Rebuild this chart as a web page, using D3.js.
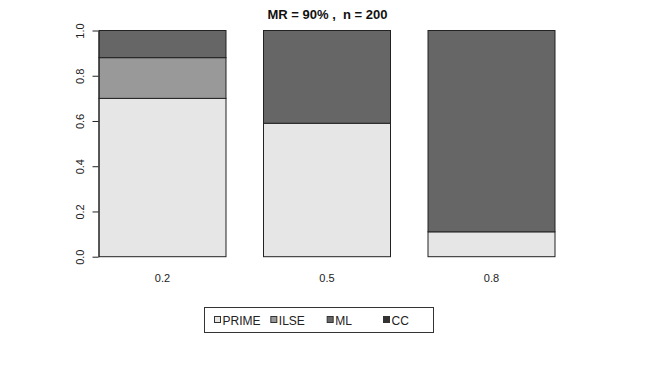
<!DOCTYPE html>
<html>
<head>
<meta charset="utf-8">
<script src="https://cdn.jsdelivr.net/npm/d3@7"></script>
<style>
  body { margin: 0; background: #fff; }
  svg { display: block; font-family: "Liberation Sans", Arial, Helvetica, sans-serif; }
</style>
</head>
<body>
<div id="chart"></div>
<script>
// data
const categories = ["0.2", "0.5", "0.8"];
const methods = ["PRIME", "ILSE", "ML", "CC"];
const prime = [0.70, 0.59, 0.11];
const ilse = [0.18, 0.00, 0.00];
const ml = [0.12, 0.41, 0.89];
const cc = [0.00, 0.00, 0.00];
const yTicks = [0, 0.2, 0.4, 0.6, 0.8, 1.0];
const title = "MR = 90% ,  n = 200";

const colors = ["#e6e6e6", "#999999", "#666666", "#333333"];

const width = 654, height = 382;

const svg = d3.select("#chart")
    .append("svg")
    .attr("width", width)
    .attr("height", height);

// build rows for the stack
const rows = categories.map((c, i) => ({
    cat: c, PRIME: prime[i], ILSE: ilse[i], ML: ml[i], CC: cc[i]
}));
const series = d3.stack().keys(methods)(rows);

const x = d3.scaleBand()
    .domain(categories)
    .range([99, 555])
    .paddingInner(0.228)
    .paddingOuter(0);

const y = d3.scaleLinear()
    .domain([0, 1])
    .range([256.7, 30.5]);

const color = d3.scaleOrdinal().domain(methods).range(colors);

// bars
svg.append("g")
    .selectAll("g")
    .data(series)
    .join("g")
    .attr("fill", d => color(d.key))
    .selectAll("rect")
    .data(d => d.filter(s => s[1] - s[0] > 0))
    .join("rect")
    .attr("x", d => x(d.data.cat))
    .attr("y", d => y(d[1]))
    .attr("width", x.bandwidth())
    .attr("height", d => y(d[0]) - y(d[1]))
    .attr("stroke", "#222")
    .attr("stroke-width", 1);

// y axis (R style, rotated labels)
const yAxis = svg.append("g")
    .attr("transform", "translate(98.5,0)")
    .call(d3.axisLeft(y).tickValues(yTicks).tickFormat(d3.format(".1f")).tickSize(6).tickSizeOuter(0));
yAxis.select(".domain").attr("stroke", "#222");
yAxis.selectAll(".tick line").attr("stroke", "#222");
yAxis.selectAll(".tick text")
    .attr("font-size", 11)
    .attr("fill", "#222")
    .attr("font-family", "Liberation Sans, Arial, sans-serif")
    .attr("x", null)
    .attr("dy", null)
    .attr("text-anchor", "middle")
    .attr("transform", "translate(-14.5,0) rotate(-90)");

// x category labels
svg.append("g")
    .selectAll("text")
    .data(categories)
    .join("text")
    .attr("x", d => x(d) + x.bandwidth() / 2)
    .attr("y", 282)
    .attr("text-anchor", "middle")
    .attr("font-size", 11)
    .attr("fill", "#222")
    .text(d => d);

// title
svg.append("text")
    .attr("x", 327.5)
    .attr("y", 18.5)
    .attr("text-anchor", "middle")
    .attr("font-size", 13)
    .attr("font-weight", "bold")
    .attr("fill", "#111")
    .attr("xml:space", "preserve")
    .text(title);

// legend
const legend = svg.append("g");
legend.append("rect")
    .attr("x", 204.5)
    .attr("y", 307.5)
    .attr("width", 229)
    .attr("height", 25)
    .attr("fill", "none")
    .attr("stroke", "#333");

const lx = d3.scalePoint().domain(methods).range([214, 383]);
const item = legend.selectAll("g.item")
    .data(methods)
    .join("g")
    .attr("class", "item")
    .attr("transform", d => `translate(${lx(d)},320)`);
item.append("rect")
    .attr("x", 0.5)
    .attr("y", -3.5)
    .attr("width", 6)
    .attr("height", 6)
    .attr("fill", d => color(d))
    .attr("stroke", "#333");
item.append("text")
    .attr("x", 8.5)
    .attr("y", 4.5)
    .attr("font-size", 12)
    .attr("fill", "#222")
    .text(d => d);
</script>
</body>
</html>
